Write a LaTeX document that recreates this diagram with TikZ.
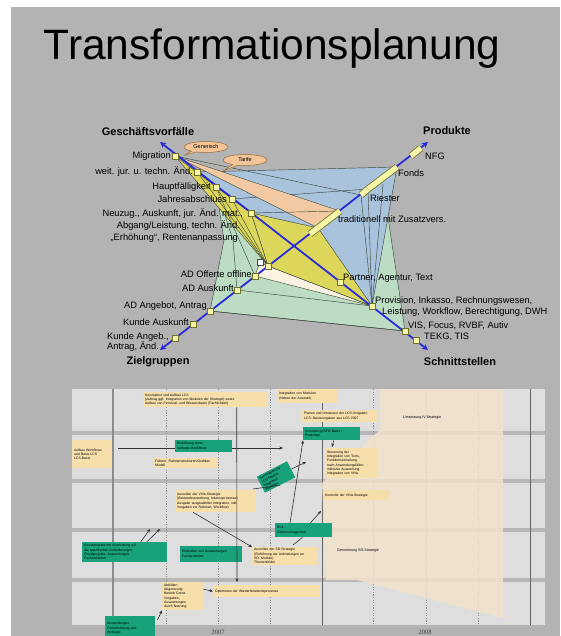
\documentclass[tikz,border=0pt]{standalone}
\usepackage{fontspec}
\setmainfont{Liberation Sans}
\newfontfamily\yearfont{Liberation Serif}
\usetikzlibrary{arrows.meta,shapes.callouts}

\definecolor{bggray}{HTML}{B3B3B3}
\definecolor{radblue}{HTML}{A9C3DC}
\definecolor{radgreen}{HTML}{BCDCC4}
\definecolor{radpeach}{HTML}{F2C9A3}
\definecolor{radyellow}{HTML}{DCD75A}
\definecolor{radcream}{HTML}{FBF2E2}
\definecolor{edgec}{HTML}{3C4A40}
\definecolor{tickfill}{HTML}{F6F6A8}
\definecolor{tickdraw}{HTML}{70702C}
\definecolor{axisblue}{HTML}{2B2BD8}
\definecolor{bubblefill}{HTML}{F2C498}
\definecolor{bubbledraw}{HTML}{9A6A3A}
\definecolor{panel}{HTML}{DEDEDE}
\definecolor{band}{HTML}{B7B7B7}
\definecolor{gridc}{HTML}{8C8C8C}
\definecolor{tanfill}{HTML}{F7DFAC}
\definecolor{tealfill}{HTML}{17A27C}
\definecolor{peachzone}{HTML}{F1E2CB}
\definecolor{arrowc}{HTML}{303030}

\tikzset{
  lbl/.style={font=\fontsize{9.3}{11}\selectfont, inner sep=0pt},
  axlbl/.style={font=\bfseries\fontsize{11}{13}\selectfont, inner sep=0pt},
  tick/.style={draw=tickdraw, fill=tickfill, minimum size=5.5pt, inner sep=0pt, line width=0.4pt},
  axisline/.style={draw=axisblue, line width=1.8pt,
    {Stealth[length=6pt,width=6pt]}-{Stealth[length=6pt,width=6pt]}},
  area/.style={draw=edgec, line width=0.45pt, line join=round},
  edgeline/.style={draw=edgec, line width=0.45pt},
  barout/.style={draw=tickdraw, line width=7pt},
  barin/.style={draw=tickfill, line width=5.4pt},
  bubble/.style={ellipse callout, draw=bubbledraw, fill=bubblefill, line width=0.5pt,
    font=\fontsize{5.5}{6}\selectfont, inner xsep=1pt, inner ysep=0.5pt,
    minimum width=44pt, minimum height=11pt},
  gbox/.style={inner xsep=2pt, inner ysep=1pt, align=left, anchor=north west,
    font=\fontsize{3.4}{4.3}\selectfont},
  tanbox/.style={gbox, fill=tanfill},
  tealbox/.style={gbox, fill=tealfill},
  garrow/.style={draw=arrowc, line width=0.6pt, -{Stealth[length=3.5pt,width=3pt]}},
  gline/.style={draw=arrowc, line width=0.6pt},
  zonetext/.style={font=\fontsize{3.6}{4.3}\selectfont, inner sep=0pt, anchor=west},
  yearlbl/.style={font=\yearfont\fontsize{6.5}{7}\selectfont, text=black!75, inner sep=0pt},
}

\begin{document}
\begin{tikzpicture}[x=1pt,y=-1pt]
\useasboundingbox (0,0) rectangle (560,636);
\fill[white] (0,0) rectangle (560,636);
\fill[bggray] (11,7) rectangle (560,636);

% ---------------- title ----------------
\node[font=\fontsize{42.5}{48}\selectfont, anchor=base, inner sep=0pt] (title) at (272,60) {Transformationsplanung};

% ---------------- radar chart: points on the axes ----------------
\coordinate (GV) at (160,142);
\coordinate (SS) at (428,350);
\coordinate (ZG) at (160,350);
\coordinate (PR) at (428,142);

\coordinate (M)  at (175,156);
\coordinate (W)  at (197,172);
\coordinate (Hf) at (216,187);
\coordinate (J)  at (232,199);
\coordinate (Nz) at (251,213);

\coordinate (Z0)   at (268,266);
\coordinate (Zw)   at (260,262);
\coordinate (Zoff) at (255,276);
\coordinate (Zaus) at (237,290);
\coordinate (Zang) at (210,311);
\coordinate (Zkau) at (193,324);
\coordinate (Zkan) at (175,338);

\coordinate (Ptl) at (310,234);
\coordinate (Pth) at (340,211);
\coordinate (Pmid) at (318,228);
\coordinate (Pr1) at (361,195);
\coordinate (Pr2) at (368,189);
\coordinate (Pf2) at (397,167);
\coordinate (Pg) at (383,184);
\coordinate (Pn1) at (411,156);
\coordinate (Pn2) at (421,148);

\coordinate (Spar)  at (340,282);
\coordinate (Sprov) at (372,306);
\coordinate (Svis)  at (405,331);
\coordinate (Stekg) at (416,340);

\coordinate (Gl) at (224,240);
\coordinate (Gl2) at (233,240);

% ---------------- radar chart: areas ----------------
\path[area, fill=radgreen] (Hf) -- (Pg) -- (Svis) -- (Zang) -- (Gl) -- cycle;
\path[area, fill=radblue] (W) -- (Pf2) -- (Sprov) -- (J) -- cycle;
\draw[edgeline] (M) -- (Pr1);
\draw[edgeline] (J) -- (Pr2);
\draw[edgeline] (Pr2) -- (Sprov);
\draw[edgeline] (Pr1) -- (Sprov);
\draw[edgeline] (Pg) -- (Sprov);
\draw[edgeline] (Gl2) -- (Zaus);
\draw[edgeline] (Hf) -- (Gl2);
\draw[edgeline] (Zang) -- (Svis);
\draw[edgeline] (Zaus) -- (Sprov);
\path[area, fill=radpeach] (M) -- (Pth) -- (Pmid) -- cycle;
\path[area, fill=radcream] (Zw) -- (Z0) -- (Sprov) -- (Zoff) -- cycle;
\path[area, fill=radyellow] (Nz) -- (Pmid) -- (Sprov) -- (Z0) -- cycle;
\path[area, fill=radyellow] (M) -- (Nz) -- (Z0) -- cycle;
\draw[edgeline] (W) -- (Z0);
\draw[edgeline] (Hf) -- (Z0);
\draw[edgeline] (J) -- (Z0);
\draw[edgeline] (Hf) -- (Zoff);
\draw[edgeline] (Nz) -- (Pth);
\path[area, fill=white] (Zw) ++(-3,-3) rectangle ++(6,6);

% ---------------- radar chart: axes ----------------
\draw[axisline] (GV) -- (SS);
\draw[axisline] (ZG) -- (PR);

% product bars along the axis
\draw[barout] (Ptl) -- (Pth);  \draw[barin] (Ptl) -- (Pth);
\draw[barout] (Pr1) -- (Pr2);  \draw[barin] (Pr1) -- (Pr2);
\draw[barout] (Pr2) -- (Pf2);  \draw[barin] (Pr2) -- (Pf2);
\draw[barout] (Pn1) -- (Pn2);  \draw[barin] (Pn1) -- (Pn2);

% ticks
\foreach \p in {M,W,Hf,J,Nz,Z0,Zoff,Zaus,Zang,Zkau,Zkan,Spar,Sprov,Svis,Stekg}
  \node[tick] (t\p) at (\p) {};

% speech bubbles
\node[bubble, callout absolute pointer={(185,155)}] (b1) at (206,147) {Generisch};
\node[bubble, callout absolute pointer={(223,171)}] (b2) at (245,160) {Tarife};

% axis titles
\node[axlbl] (lGV) at (148,132) {Geschäftsvorfälle};
\node[axlbl] (lPR) at (447,131) {Produkte};
\node[axlbl] (lZG) at (158,362) {Zielgruppen};
\node[axlbl] (lSS) at (460,362) {Schnittstellen};

% labels, business cases
\node[lbl, anchor=east] (lM) at (171,156) {Migration};
\node[lbl, anchor=east] (lW) at (193,172) {weit. jur. u. techn. Änd.};
\node[lbl, anchor=east] (lHf) at (211,187) {Hauptfälligkeit};
\node[lbl, anchor=east] (lJ) at (227,199) {Jahresabschluss};
\node[lbl, anchor=east] (lN1) at (243,214) {Neuzug., Auskunft, jur. Änd. mat.,};
\node[lbl, anchor=east] (lN2) at (240,226) {Abgang/Leistung, techn. Änd.};
\node[lbl, anchor=east] (lN3) at (238,238) {„Erhöhung“, Rentenanpassung};

% labels, target groups
\node[lbl, anchor=east] (lZoff) at (252,274) {AD Offerte offline};
\node[lbl, anchor=east] (lZaus) at (234,288) {AD Auskunft};
\node[lbl, anchor=east] (lZang) at (207,306) {AD Angebot, Antrag};
\node[lbl, anchor=east] (lZkau) at (189,322) {Kunde Auskunft};
\node[lbl, anchor=west] (lZk1) at (107,337) {Kunde Angeb.,};
\node[lbl, anchor=west] (lZk2) at (107,347) {Antrag, Änd.};

% labels, products
\node[lbl, anchor=west] (lNFG) at (425,156) {NFG};
\node[lbl, anchor=west] (lFo) at (398,173) {Fonds};
\node[lbl, anchor=west] (lRi) at (370,198) {Riester};
\node[lbl, anchor=west] (lTr) at (338,219) {traditionell mit Zusatzvers.};

% labels, interfaces
\node[lbl, anchor=west] (lSpar) at (343,278) {Partner, Agentur, Text};
\node[lbl, anchor=west] (lSp1) at (375,301) {Provision, Inkasso, Rechnungswesen,};
\node[lbl, anchor=west] (lSp2) at (382,312) {Leistung, Workflow, Berechtigung, DWH};
\node[lbl, anchor=west] (lSvis) at (408,326) {VIS, Focus, RVBF, Autiv};
\node[lbl, anchor=west] (lStekg) at (424,337) {TEKG, TIS};

% ---------------- time plan ----------------
\fill[panel] (72,389) rectangle (545,625);
\foreach \y in {431,479,528,578}
  \fill[band] (72,\y) rectangle (545,\y+4);
\foreach \x in {166,218,270,373,426,478}
  \draw[gridc, line width=0.5pt, dash pattern=on 1.2pt off 1.4pt] (\x,389) -- (\x,625);
\draw[gridc, line width=1.6pt] (113,389) -- (113,625);
\draw[black!60, line width=0.8pt] (322,389) -- (322,625);
\draw[black!60, line width=0.8pt] (530,389) -- (530,625);

% planning zone
\fill[peachzone, fill opacity=0.85] (380,389) -- (503,389) -- (503,618) -- (357,580)
  -- (326,580) -- (322,483) -- (380,430) -- cycle;
\node[zonetext] (z1) at (403,418) {Umsetzung IV-Strategie};
\node[zonetext] (z2) at (337,551) {Generierung SD-Strategie};

% row 1
\node[tanbox, text width=121pt, minimum height=15pt] (T1) at (143,392)
  {Konzeption und Aufbau LCS\\(Auftrag ggf. Integration von Modulen der Strategie) sowie\\Aufbau von Personal- und Wissensbasis (Fachlichkeit)};
\node[tanbox, text width=56pt, minimum height=14pt] (T2) at (277,389)
  {Integration von Modulen\\(Neben der Auswahl)};
\node[tanbox, text width=72pt, minimum height=12pt] (T3) at (302,410)
  {Planen und Umsetzen der LCS-Vorgaben\\LCS: Basisvorgaben aus LCS 2007};

% row 2
\node[tanbox, text width=36pt, minimum height=28pt] (R2) at (72,440)
  {Aufbau Workflows\\und Basis LCS\\LCS-Basis};
\coordinate (a1s) at (118,448);
\coordinate (a1e) at (283,448);
\draw[garrow] (a1s) -- (a1e);
\node[tealbox, text width=53pt, minimum height=12pt] (G2) at (175,440)
  {Einführung eines\\Auftrags-Workflows};
\node[tanbox, text width=61pt, minimum height=10pt] (T5) at (153,458)
  {Führen: Rahmenstrukturen/Grafiken\\Modell};
\node[tanbox, text width=49pt, minimum height=30pt] (T4) at (325,448)
  {Steuerung der\\Integration von Tools,\\Funktionsverteilung,\\nach Anwendungsfällen\\inklusive Auswertung,\\Integration von VIVa};

% row 3
\node[tanbox, text width=76pt, minimum height=22pt] (T6) at (175,490)
  {Ausrollen der VIVa-Strategie\\(Bestandsverwaltung, Inkassoprozesse)\\Ausgabe ausgewählter Integration, inkl.\\Vorgaben vor Rahmen, Workflow)};
\node[tanbox, text width=63pt, minimum height=10pt] (T7) at (323,490)
  {Kontrolle der VIVa-Strategie};
\node[tealbox, text width=53pt, minimum height=14pt] (G5) at (275,523)
  {Kick-\\Datenmanagement};

% row 4
\node[tealbox, text width=81pt, minimum height=20pt] (G6) at (82,542)
  {Einzelprojekte mit Ausrichtung auf\\die spezifischen Anforderungen,\\Einzelprojekte, Auswertungen\\Fachverfahren};
\node[tealbox, text width=58pt, minimum height=16pt] (G7) at (180,546)
  {Einbinden von Auswertungen\\Fachprozesse};
\node[tanbox, text width=62pt, minimum height=18pt] (T8) at (252,547)
  {Ausrollen der SD-Strategie\\(Einführung der Anbindungen an\\SD- Module)\\Themenfelder};

% row 5
\node[tanbox, text width=37pt, minimum height=28pt] (T9) at (162,582)
  {Abbilden\\Abgrenzung\\Betrieb Grenz-\\Vorgaben,\\Auswertungen\\durch Nutzung};
\node[tanbox, text width=103pt, minimum height=12pt] (T10) at (213,585)
  {Optimieren der Wiederholarbeitsprozesse};
\node[tealbox, text width=46pt, minimum height=24pt] (G8) at (105,616)
  {Anwendungen\\Fortschreibung aus\\Strategie};

% row 1/2 boundary
\node[tealbox, text width=53pt, minimum height=13pt] (G1) at (303,427)
  {Umsetzung NFG-Basis /\\Produktpl.};
\node[tealbox, text width=30pt, minimum height=18pt, rotate=27, anchor=center] (G3) at (276,477)
  {Konsolidierung\\LCS-Module\\Integration\\Workflow};

% connectors of the time plan
\coordinate (c1) at (332,447);
\coordinate (c2) at (306,462);
\coordinate (c3) at (253,489);
\coordinate (c4) at (237,582);
\coordinate (c5) at (150,529);
\coordinate (c6) at (160,529);
\coordinate (c7) at (321,511);
\coordinate (c8) at (293,545);
\draw[garrow] (G5.north west) ++(15,0) -- (G1.south west);
\draw[garrow] (G1.south) ++(2,0) -- (c1);
\draw[garrow] (G3.east) -- (c2);
\draw[gline] (c3) -- (G3.south);
\draw[garrow] (T1.south) ++(31,0) -- (c4);
\draw[garrow] (G6.north) ++(16,0) -- (c5);
\draw[garrow] (G6.north) ++(22,0) -- (c6);
\draw[garrow] (T6.south) ++(-22,0) -- (T8.north west);
\draw[garrow] (T9.east) ++(0,-7) -- (T10.west);
\draw[garrow] (G8.north east) ++(2,4) -- (T9.south west);
\draw[garrow] (G5.north east) ++(-22,0) -- (c7);
\draw[gline] (G5.south east) ++(-30,0) -- (c8);

% years
\node[yearlbl] (y7) at (218,632) {2007};
\node[yearlbl] (y8) at (425,632) {2008};
\end{tikzpicture}
\end{document}
